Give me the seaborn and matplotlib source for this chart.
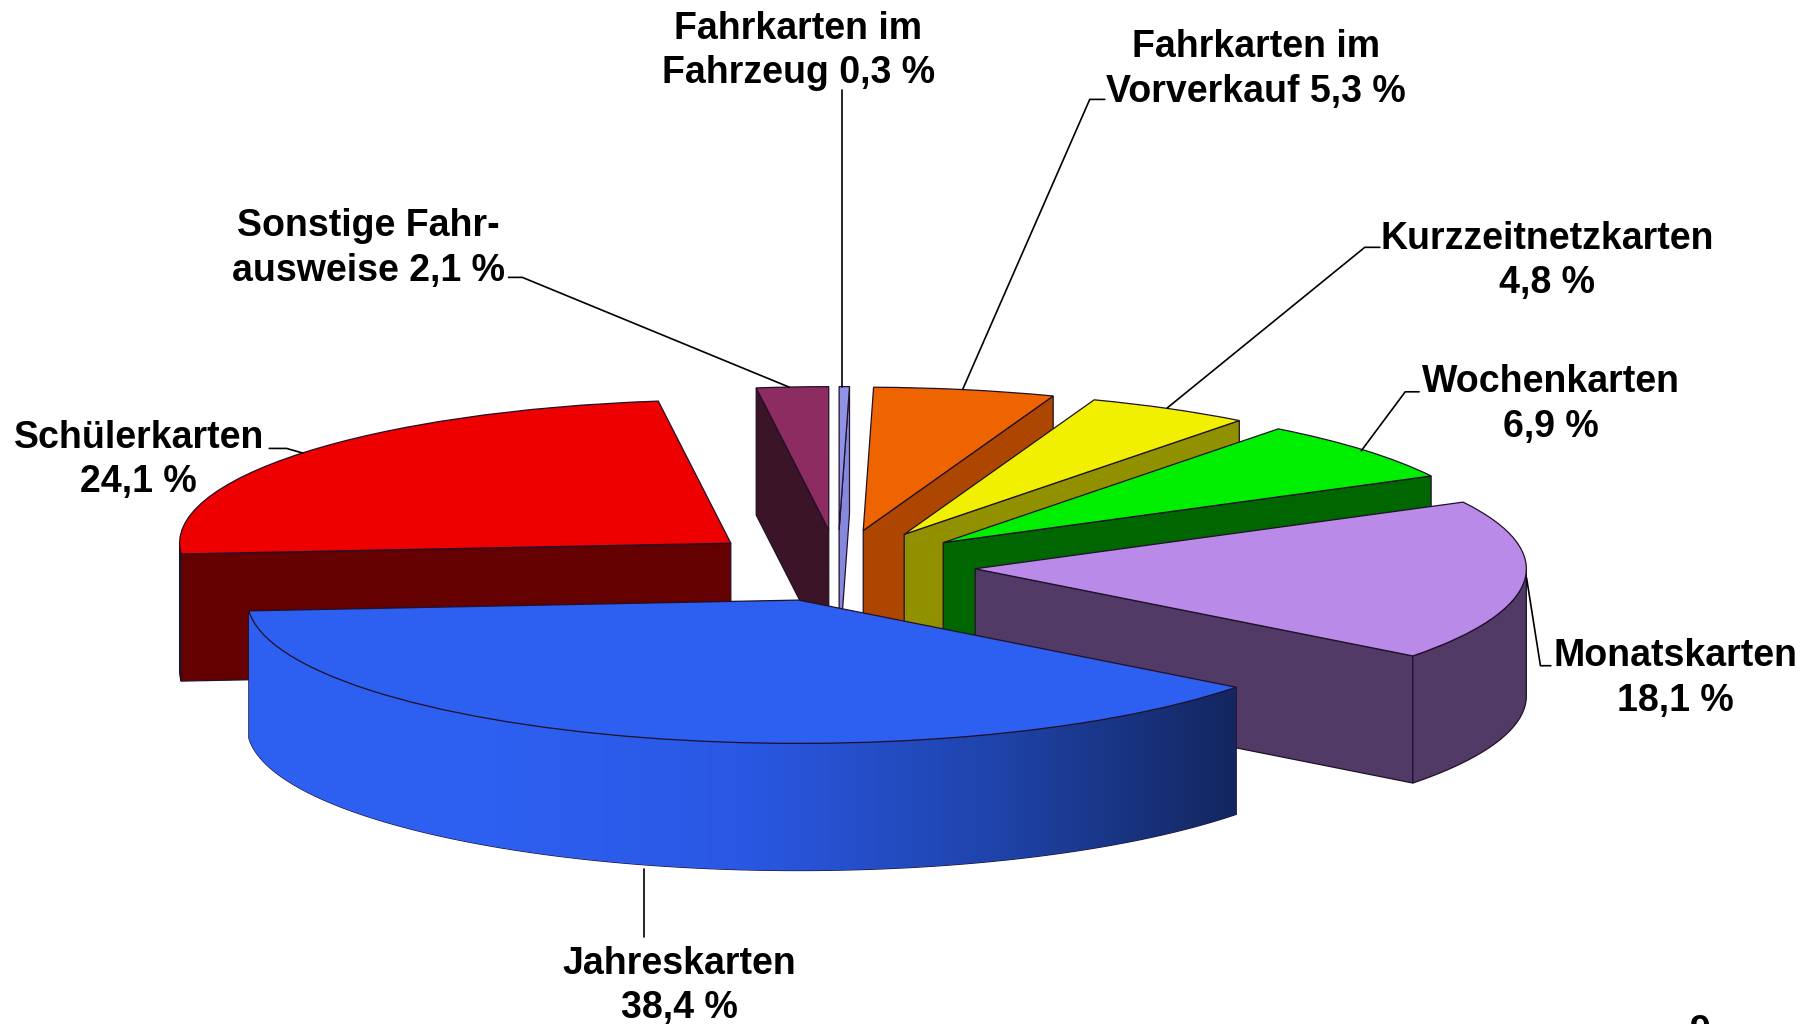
import numpy as np
import seaborn as sns
import matplotlib
matplotlib.use('Agg')
import matplotlib.pyplot as plt
from matplotlib.patches import Polygon

# clockwise from 12 o'clock
categories = ['Fahrkarten im\nFahrzeug', 'Fahrkarten im\nVorverkauf', 'Kurzzeitnetzkarten', 'Wochenkarten',
              'Monatskarten', 'Jahreskarten', 'Schülerkarten', 'Sonstige Fahr-\nausweise']
shares = [0.3, 5.3, 4.8, 6.9, 18.1, 38.4, 24.1, 2.1]
top_colors = ['#8f92e6', '#ee6400', '#f0f000', '#00ee00', '#b98ae8', '#2d5ff0', '#ee0000', '#8c2c60']
side_colors = ['#8588dc', '#ad4600', '#919100', '#006600', '#513a66', '#2d5ff0', '#650000', '#3c1428']

sns.set_theme(style='white')
plt.rcParams['font.family'] = ['Liberation Sans', 'DejaVu Sans']

W, H = 1568, 886  # layout coords, same as the shrunk reference
cx, cy, a, b = 725, 489.5, 477, 124
depth = 110 / b

fig = plt.figure(figsize=(18.12, 10.24), dpi=100)
ax = fig.add_axes([0, 0, 1, 1])
wedges, _ = ax.pie(shares, explode=[0.25] * len(shares), startangle=90, counterclock=False,
                   colors=top_colors, wedgeprops={'edgecolor': '#20102a', 'linewidth': 0.9})

blue_fade = sns.blend_palette(['#2d5ff0', '#2d5ff0', '#2a58e4', '#1f44ac', '#13265f'], as_cmap=True)


def radial_face(w, theta, color, z):
    t = np.deg2rad(theta)
    mid = np.deg2rad((w.theta1 + w.theta2) / 2)
    edge = np.array([np.cos(t), np.sin(t)])
    inward = np.array([np.cos(mid), np.sin(mid)])
    inward = inward - inward.dot(edge) * edge
    # only the faces turned towards the viewer
    if inward[1] <= 0:
        return
    x0, y0 = w.center
    x1, y1 = x0 + edge[0] * w.r, y0 + edge[1] * w.r
    ax.add_patch(Polygon([(x0, y0), (x1, y1), (x1, y1 - depth), (x0, y0 - depth)], closed=True,
                         facecolor=color, edgecolor='#20102a', linewidth=0.9, zorder=z))


def outer_band(w, color, z, fade=None):
    t = np.deg2rad(np.linspace(w.theta1, w.theta2, 300))
    t = t[np.sin(t) <= 0]
    if len(t) < 2:
        return
    x = w.center[0] + np.cos(t) * w.r
    y = w.center[1] + np.sin(t) * w.r
    pts = np.r_[np.c_[x, y], np.c_[x, y - depth][::-1]]
    band = Polygon(pts, closed=True, facecolor=color, edgecolor='#20102a', linewidth=0.9, zorder=z)
    ax.add_patch(band)
    if fade is not None:
        im = ax.imshow(np.linspace(0, 1, 256)[None, :], cmap=fade, aspect='auto', zorder=z + 0.1,
                       extent=[x.min(), x.max(), (y - depth).min(), y.max()])
        im.set_clip_path(band)


# painter's order: back slice (Schülerkarten) first, Jahreskarten last
n = len(shares)
for i, w in enumerate(wedges):
    z = 2 + ((i - 6) % n) * 2
    radial_face(w, w.theta1, side_colors[i], z)
    radial_face(w, w.theta2, side_colors[i], z)
    outer_band(w, side_colors[i], z + 0.3, fade=blue_fade if categories[i] == 'Jahreskarten' else None)
    w.set_zorder(z + 0.6)

ax.set_aspect('auto')
ax.set_xlim(-cx / a, (W - cx) / a)
ax.set_ylim(-(H - cy) / b, cy / b)
ax.set_axis_off()

# labels and leader lines on an overlay in layout coords
ov = fig.add_axes([0, 0, 1, 1], facecolor='none')
ov.set_xlim(0, W)
ov.set_ylim(H, 0)
ov.set_axis_off()

label_pos = [(691, 44), (1087, 60), (1339, 226), (1342, 350), (1450, 587), (588, 853), (120, 398), (319, 215)]
leaders = [[(729, 78), (729, 335)],
           [(956, 86), (943, 86), (833, 337)],
           [(1194, 214), (1181, 214), (1010, 353)],
           [(1228, 339), (1216, 339), (1178, 390)],
           [(1321, 500), (1333, 576), (1342, 576)],
           [(557, 752), (557, 811)],
           [(233, 388), (248, 388), (262, 392)],
           [(440, 240), (452, 240), (683, 335)]]

for name, val, (lx, ly), pts in zip(categories, shares, label_pos, leaders):
    sep = ' ' if '\n' in name else '\n'
    txt = name + sep + f'{val:.1f}'.replace('.', ',') + ' %'
    ov.text(lx, ly, txt, ha='center', va='center', ma='center', fontsize=27, fontweight='bold',
            color='black', linespacing=1.3, zorder=30)
    px, py = zip(*pts)
    ov.plot(px, py, color='black', lw=1.2, zorder=29, solid_joinstyle='miter')

# clipped page number at the bottom edge
ov.text(1471, 877, '9', ha='center', va='top', fontsize=27, fontweight='bold', color='black')

fig.savefig('out.png', dpi=100)
